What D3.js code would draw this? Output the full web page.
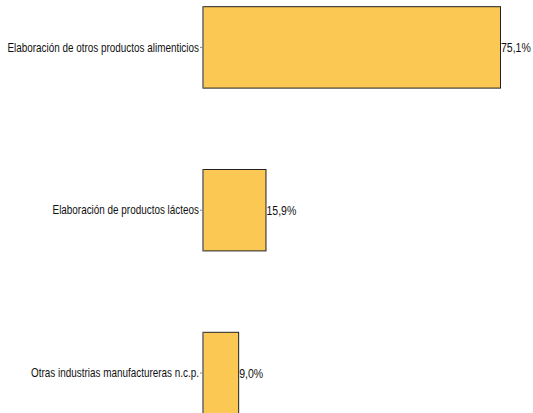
<!DOCTYPE html>
<html><head><meta charset="utf-8">
<script src="https://cdn.jsdelivr.net/npm/d3@7"></script>
<style>body{margin:0;background:#fff;overflow:hidden}svg{display:block}</style>
</head><body>
<svg id="c" width="533" height="413"></svg>
<script>
const categories = ["Elaboración de otros productos alimenticios","Elaboración de productos lácteos","Otras industrias manufactureras n.c.p."];
const values = [75.1, 15.9, 9.0];
const valueLabels = ["75,1%","15,9%","9,0%"];

const svg = d3.select("#c");
const x = d3.scaleLinear().domain([0, 75.1]).range([203, 500.5]);
const y = d3.scaleBand().domain(categories).range([-34, 454.4]).paddingInner(0.5).paddingOuter(0.25);
const font = "'Liberation Sans', Arial, sans-serif";
const fs = 13, k = 0.763;
const fsv = 13.5, kv = 0.78;

svg.selectAll("rect.bar").data(values).join("rect")
  .attr("class","bar")
  .attr("x", x(0)).attr("y", (d,i)=>y(categories[i]))
  .attr("width", d=>x(d)-x(0)).attr("height", y.bandwidth())
  .attr("fill", "#FBC853").attr("stroke", "#222").attr("stroke-width", 1);

// left edge of bars in grey (axis line over bars)
svg.selectAll("line.edge").data(values).join("line")
  .attr("class","edge")
  .attr("x1", x(0)).attr("x2", x(0))
  .attr("y1", (d,i)=>y(categories[i])).attr("y2", (d,i)=>y(categories[i])+y.bandwidth())
  .attr("stroke", "#888").attr("stroke-width", 1.2);

const axis = svg.append("g").attr("transform", `translate(${x(0)},0)`)
  .call(d3.axisLeft(y).tickSize(3).tickPadding(1));
axis.select(".domain").remove();
axis.selectAll(".tick line").attr("stroke", "#888");
axis.selectAll(".tick text")
  .attr("x", 0)
  .attr("transform", `translate(-4,0) scale(${k},1)`)
  .attr("font-family", font).attr("font-size", fs).attr("fill", "#111");

svg.selectAll("text.val").data(values).join("text")
  .attr("class","val")
  .attr("transform", (d,i)=>`translate(${x(d)+0.5},${y(categories[i])+y.bandwidth()/2}) scale(${kv},1)`)
  .attr("dy", "0.35em")
  .attr("font-family", font).attr("font-size", fsv).attr("fill", "#111")
  .text((d,i)=>valueLabels[i]);
</script>
</body></html>
